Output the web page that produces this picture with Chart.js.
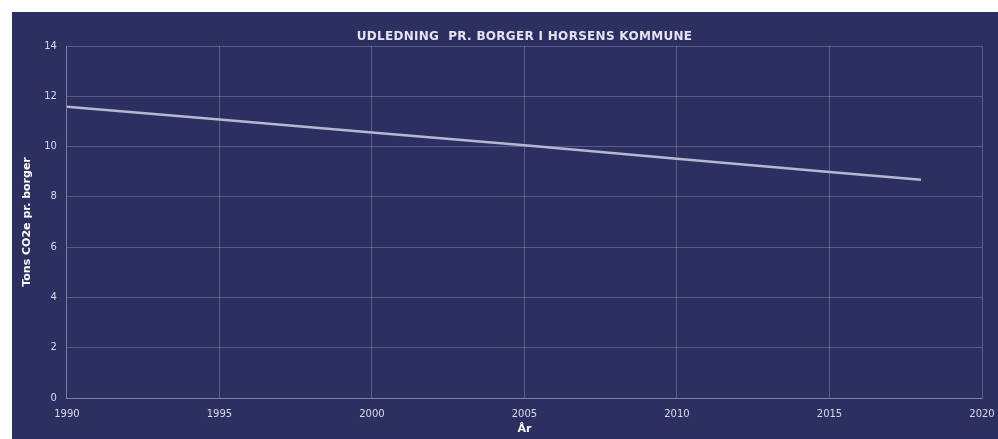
<!DOCTYPE html>
<html>
<head>
<meta charset="utf-8">
<script src="https://cdn.jsdelivr.net/npm/chart.js@4"></script>
<style>
  html, body { margin: 0; padding: 0; background: #ffffff; }
  #wrap { position: absolute; left: 12px; top: 12px; width: 986px; height: 427px; background: #2d2f61; }
  canvas { display: block; }
</style>
</head>
<body>
<div id="wrap"><canvas id="c" width="986" height="427"></canvas></div>
<script>
const years = [1990, 1995, 2000, 2005, 2010, 2015, 2018];
const emissions = [11.58, 11.08, 10.56, 10.05, 9.52, 8.99, 8.68];
const titleText = 'UDLEDNING  PR. BORGER I HORSENS KOMMUNE';
const xTitle = 'År';
const yTitle = 'Tons CO2e pr. borger';

const textColor = '#d8d9e8';
const gridColor = 'rgba(255,255,255,0.22)';

const centeredTexts = {
  id: 'centeredTexts',
  afterDraw(chart) {
    const ctx = chart.ctx;
    const a = chart.chartArea;
    const cx = (a.left + a.right) / 2;
    ctx.save();
    ctx.textAlign = 'center';
    ctx.textBaseline = 'middle';
    ctx.font = 'bold 12px "DejaVu Sans"';
    if ('letterSpacing' in ctx) ctx.letterSpacing = '0.3px';
    ctx.fillStyle = '#e2e3ef';
    ctx.fillText(titleText, cx, 25);
    if ('letterSpacing' in ctx) ctx.letterSpacing = '0px';
    ctx.font = 'bold 11px "DejaVu Sans"';
    ctx.fillStyle = '#ffffff';
    ctx.fillText(xTitle, cx, 417);
    ctx.restore();
  }
};

new Chart(document.getElementById('c'), {
  type: 'line',
  data: {
    datasets: [{
      data: years.map((y, i) => ({ x: y, y: emissions[i] })),
      borderColor: '#b6b8d2',
      borderWidth: 2.5,
      pointRadius: 0,
      tension: 0,
      fill: false
    }]
  },
  plugins: [centeredTexts],
  options: {
    responsive: false,
    animation: false,
    layout: { padding: { left: 9, right: 2, top: 34, bottom: 9 } },
    plugins: {
      legend: { display: false },
      tooltip: { enabled: false },
      title: { display: false }
    },
    scales: {
      x: {
        type: 'linear',
        min: 1990, max: 2020,
        ticks: { stepSize: 5, color: textColor, font: { family: 'DejaVu Sans', size: 10 }, padding: 10,
                 callback: v => String(v) },
        afterFit: s => { s.paddingRight = 16; },
        grid: { color: gridColor, drawTicks: false },
        border: { color: gridColor },
        title: { display: false }
      },
      y: {
        min: 0, max: 14,
        ticks: { stepSize: 2, color: textColor, font: { family: 'DejaVu Sans', size: 10 }, padding: 10 },
        grid: { color: gridColor, drawTicks: false },
        border: { color: gridColor },
        title: { display: true, text: yTitle, color: '#ffffff', font: { family: 'DejaVu Sans', size: 11, weight: 'bold' }, padding: { top: 0, bottom: 0 } }
      }
    }
  }
});
</script>
</body>
</html>
